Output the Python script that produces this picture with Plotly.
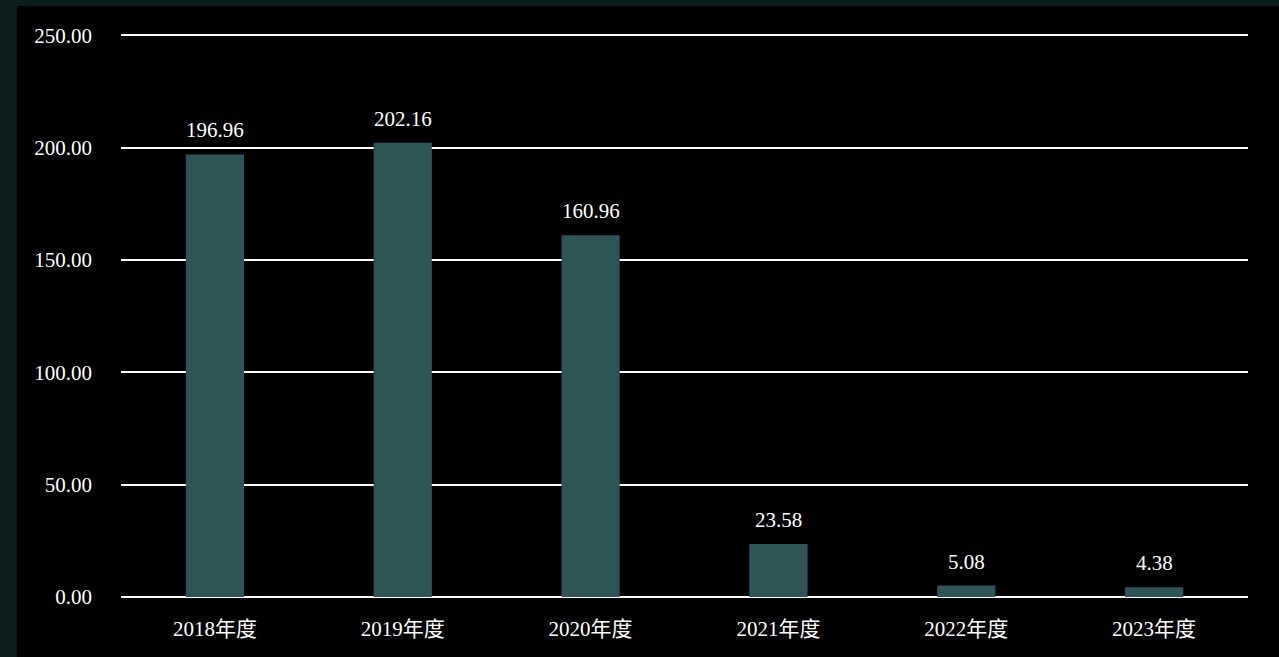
import plotly.graph_objects as go

categories = ["2018年度", "2019年度", "2020年度", "2021年度", "2022年度", "2023年度"]
values = [196.96, 202.16, 160.96, 23.58, 5.08, 4.38]
y_ticks = [0, 50, 100, 150, 200, 250]

W, H = 1279, 657
ml, mr, mt, mb = 121, 31, 33, 60
pw, ph = W - ml - mr, H - mt - mb

font_family = "Liberation Serif, Noto Sans CJK SC, serif"

fig = go.Figure()
fig.add_trace(go.Bar(
    x=categories, y=values, width=0.31,
    marker=dict(color="#2e5457", line=dict(width=0)),
    hoverinfo="skip",
))

for c, v in zip(categories, values):
    fig.add_annotation(x=c, y=v, text=f"{v:.2f}", showarrow=False,
                       yanchor="middle", yshift=24,
                       font=dict(size=21, color="#ffffff", family=font_family))

# black panel over dark border
fig.add_shape(type="rect", xref="paper", yref="paper",
              x0=(17 - ml) / pw, x1=(W + 5 - ml) / pw,
              y0=-(mb + 5) / ph, y1=(H - mb - 6) / ph,
              fillcolor="#000000", line=dict(width=0), layer="below")

fig.update_layout(
    width=W, height=H,
    margin=dict(l=ml, r=mr, t=mt, b=mb, pad=0),
    paper_bgcolor="#0b1e1e",
    plot_bgcolor="rgba(0,0,0,0)",
    showlegend=False,
    font=dict(family=font_family, size=21, color="#ffffff"),
    xaxis=dict(showgrid=False, showline=False, ticks="", zeroline=False,
               ticklabelstandoff=17,
               tickfont=dict(size=21, color="#ffffff", family=font_family)),
    yaxis=dict(range=[0, 251], tickvals=y_ticks, tickformat=".2f",
               showgrid=True, gridcolor="#ffffff", gridwidth=2,
               zeroline=True, zerolinecolor="#ffffff", zerolinewidth=2,
               showline=False, ticks="", ticklabelstandoff=28,
               tickfont=dict(size=21, color="#ffffff", family=font_family)),
)

fig.write_html("out.html")
